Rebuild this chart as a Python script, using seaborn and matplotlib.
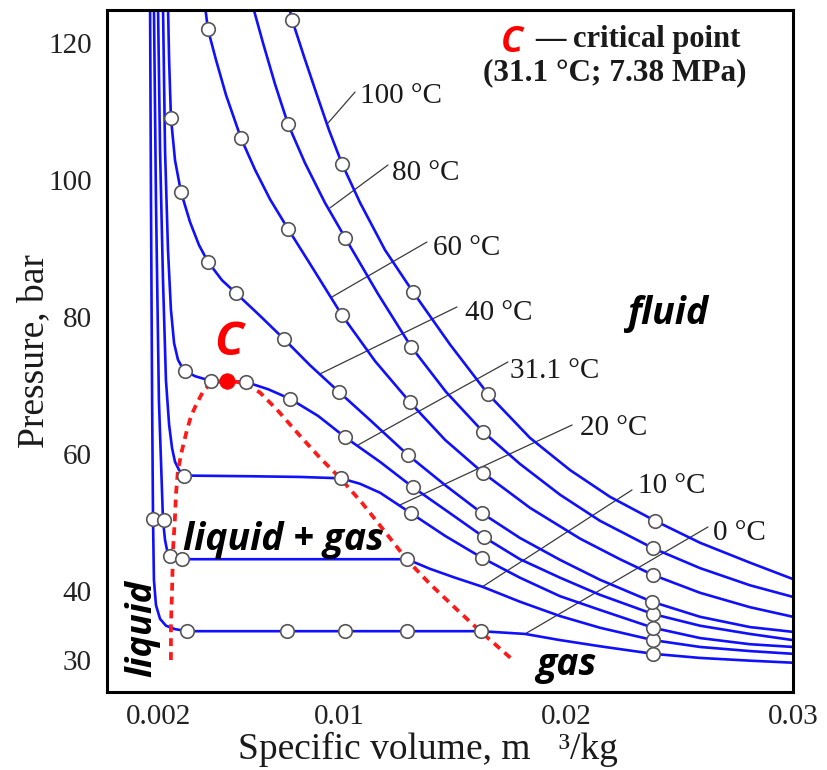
import matplotlib
matplotlib.use("Agg")
import matplotlib.pyplot as plt
import pandas as pd
import seaborn as sns

# ---------------- data ----------------
isotherm_names = ["0 °C", "10 °C", "20 °C", "31.1 °C", "40 °C", "60 °C", "80 °C", "100 °C"]

# specific volume (m3/kg) and pressure (bar) along each isotherm
v_0 = [0.00165, 0.00169, 0.00174, 0.00178, 0.00182, 0.00191, 0.00209, 0.00235, 0.00275, 0.00328,
       0.00769, 0.01025, 0.01298, 0.01624, 0.01818, 0.01973, 0.02149, 0.02383, 0.02590, 0.02810, 0.03000]
p_0 = [125.5, 97.1, 67.9, 50.6, 41.7, 38.0, 36.0, 35.0, 34.5, 34.2,
       34.2, 34.2, 34.2, 34.2, 33.8, 32.9, 32.0, 30.9, 30.3, 29.9, 29.6]

v_10 = [0.00182, 0.00191, 0.00204, 0.00222, 0.00231, 0.00240, 0.00253, 0.00275, 0.00306, 0.01298,
        0.01399, 0.01510, 0.01629, 0.01796, 0.01973, 0.02149, 0.02383, 0.02590, 0.02810, 0.03000]
p_10 = [125.5, 97.1, 67.9, 50.4, 47.5, 46.0, 45.2, 44.7, 44.7, 44.7,
        43.3, 42.0, 40.7, 38.5, 36.4, 34.7, 32.9, 31.9, 31.3, 30.9]

v_20 = [0.00200, 0.00209, 0.00222, 0.00235, 0.00249, 0.00262, 0.00275, 0.00293, 0.00319, 0.00606,
        0.00826, 0.01007, 0.01091, 0.01179, 0.01316, 0.01466, 0.01629, 0.01796, 0.01973, 0.02149,
        0.02383, 0.02590, 0.02810, 0.03000]
p_20 = [125.5, 104.4, 85.4, 70.8, 64.3, 60.9, 58.9, 57.7, 56.9, 56.8,
        56.7, 56.5, 55.7, 54.4, 51.4, 48.1, 44.9, 42.0, 39.3, 37.3,
        34.7, 33.2, 32.3, 31.9]

v_31 = [0.00222, 0.00231, 0.00244, 0.00257, 0.00271, 0.00288, 0.00306, 0.00319, 0.00363, 0.00434,
        0.00504, 0.00588, 0.00685, 0.00782, 0.00906, 0.01025, 0.01179, 0.01324, 0.01488, 0.01638,
        0.01796, 0.01973, 0.02149, 0.02383, 0.02590, 0.02810, 0.03000]
p_31 = [125.5, 104.4, 89.8, 81.1, 76.2, 73.8, 72.7, 72.2, 71.4, 70.7,
        70.7, 70.55, 69.5, 68.1, 65.6, 62.5, 58.9, 55.2, 51.4, 47.9,
        44.7, 42.0, 39.5, 36.7, 35.0, 33.8, 32.9]

v_40 = [0.00244, 0.00249, 0.00257, 0.00275, 0.00301, 0.00341, 0.00381, 0.00420, 0.00482, 0.00544,
        0.00650, 0.00756, 0.00870, 0.00998, 0.01135, 0.01302, 0.01466, 0.01629, 0.01796, 0.01973,
        0.02149, 0.02378, 0.02590, 0.02810, 0.03000]
p_40 = [125.5, 117.5, 109.1, 102.9, 98.3, 93.9, 90.5, 88.1, 85.4, 83.5,
        80.2, 76.8, 73.0, 69.1, 65.0, 59.9, 55.5, 51.4, 47.8, 44.6,
        41.7, 38.5, 36.3, 34.8, 34.1]

v_60 = [0.00407, 0.00420, 0.00456, 0.00500, 0.00566, 0.00628, 0.00694, 0.00773, 0.00870, 0.01011,
        0.01157, 0.01311, 0.01466, 0.01633, 0.01840, 0.02061, 0.02237, 0.02383, 0.02590, 0.02810, 0.03000]
p_60 = [125.5, 122.0, 117.5, 112.4, 106.1, 101.5, 97.2, 92.9, 87.8, 80.3,
        73.6, 67.6, 62.1, 57.3, 52.2, 47.7, 44.7, 42.4, 39.8, 37.7, 36.3]

v_80 = [0.00617, 0.00663, 0.00716, 0.00773, 0.00848, 0.00936, 0.01025, 0.01170, 0.01316, 0.01470,
        0.01633, 0.01796, 0.01973, 0.02149, 0.02383, 0.02590, 0.02810, 0.03000]
p_80 = [125.5, 120.0, 114.0, 108.2, 102.5, 96.7, 91.6, 83.4, 75.7, 69.1,
        63.3, 58.6, 54.1, 50.3, 46.3, 43.4, 40.9, 39.2]

v_100 = [0.00776, 0.00791, 0.00844, 0.00901, 0.00954, 0.01011, 0.01091, 0.01201, 0.01324, 0.01488,
         0.01655, 0.01840, 0.02017, 0.02193, 0.02392, 0.02590, 0.02810, 0.03000]
p_100 = [125.5, 123.4, 118.0, 112.4, 107.3, 102.4, 96.7, 89.8, 83.7, 76.0,
         68.8, 62.4, 57.7, 53.8, 50.3, 47.1, 44.2, 41.8]

# measured state points (open circles)
mv_0 = [0.00178, 0.00328, 0.00769, 0.01025, 0.01298, 0.01624, 0.02383]
mp_0 = [50.6, 34.2, 34.2, 34.2, 34.2, 34.2, 30.9]
mv_10 = [0.00226, 0.00253, 0.00306, 0.01298, 0.02383]
mp_10 = [50.4, 45.1, 44.7, 44.7, 32.9]
mv_20 = [0.00315, 0.01007, 0.01316, 0.01629, 0.02383]
mp_20 = [56.9, 56.5, 51.4, 44.9, 34.7]
mv_31 = [0.00319, 0.00434, 0.00588, 0.00782, 0.01025, 0.01324, 0.01638, 0.02383]
mp_31 = [72.2, 70.7, 70.55, 68.1, 62.5, 55.2, 47.9, 36.7]
mv_40 = [0.00257, 0.00301, 0.00420, 0.00544, 0.00756, 0.00998, 0.01302, 0.01629, 0.02378]
mp_40 = [109.1, 98.3, 88.1, 83.5, 76.8, 69.1, 59.9, 51.4, 38.5]
mv_60 = [0.00420, 0.00566, 0.00773, 0.01011, 0.01311, 0.01633, 0.02383]
mp_60 = [122.0, 106.1, 92.9, 80.3, 67.6, 57.3, 42.4]
mv_80 = [0.00773, 0.01025, 0.01316, 0.01633, 0.02383]
mp_80 = [108.2, 91.6, 75.7, 63.3, 46.3]
mv_100 = [0.00791, 0.01011, 0.01324, 0.01655, 0.02392]
mp_100 = [123.4, 102.4, 83.7, 68.8, 50.3]

# saturation dome (liquid side -> critical point -> vapour side)
dome_v = [0.00257, 0.00257, 0.00262, 0.00266, 0.00275, 0.00279, 0.00288, 0.00306, 0.00328, 0.00346,
          0.00372, 0.00403, 0.00434, 0.00465, 0.00504, 0.00548, 0.00588, 0.00650, 0.00725, 0.00826,
          0.00914, 0.01007, 0.01100, 0.01201, 0.01298, 0.01399, 0.01510, 0.01624, 0.01765]
dome_p = [30.0, 35.1, 40.2, 46.0, 50.9, 54.1, 57.7, 60.6, 63.6, 65.6,
          67.5, 69.4, 70.3, 70.55, 70.7, 70.55, 70.3, 69.0, 66.5, 62.7,
          59.5, 56.4, 52.9, 48.7, 44.6, 41.1, 37.6, 34.1, 30.0]

crit_v = [0.00504]
crit_p = [70.7]

x_ticks = [0.002, 0.01, 0.02, 0.03]
x_tick_labels = ["0.002", "0.01", "0.02", "0.03"]
y_ticks = [30, 40, 50, 60, 70, 80, 90, 100, 110, 120]
y_tick_labels = ["30", "40", "", "60", "", "80", "", "100", "", "120"]

# ---------------- assemble tables ----------------
curve_v = [v_0, v_10, v_20, v_31, v_40, v_60, v_80, v_100]
curve_p = [p_0, p_10, p_20, p_31, p_40, p_60, p_80, p_100]
mark_v = [mv_0, mv_10, mv_20, mv_31, mv_40, mv_60, mv_80, mv_100]
mark_p = [mp_0, mp_10, mp_20, mp_31, mp_40, mp_60, mp_80, mp_100]

line_rows = []
for name, vs, ps in zip(isotherm_names, curve_v, curve_p):
    for i, (v, p) in enumerate(zip(vs, ps)):
        line_rows.append({"T": name, "i": i, "v": v, "P": p})
df_lines = pd.DataFrame(line_rows)

mark_rows = []
for name, vs, ps in zip(isotherm_names, mark_v, mark_p):
    for v, p in zip(vs, ps):
        mark_rows.append({"T": name, "v": v, "P": p})
df_marks = pd.DataFrame(mark_rows)

df_dome = pd.DataFrame({"v": dome_v, "P": dome_p, "i": range(len(dome_v))})

# ---------------- styling ----------------
sns.set_theme(style="white")
plt.rcParams["font.family"] = ["Liberation Serif", "DejaVu Serif"]
plt.rcParams["axes.linewidth"] = 2.2

SANS_BI = dict(family=["Open Sans", "DejaVu Sans"], weight="bold", style="italic")
BLUE = "#1010ff"

fig = plt.figure(figsize=(8.28, 7.7), dpi=100)
ax = fig.add_axes([107 / 828, 78 / 770, 686 / 828, 682 / 770])

sns.lineplot(data=df_lines, x="v", y="P", units="T", estimator=None, sort=False,
             color=BLUE, lw=1.9, ax=ax, legend=False, zorder=2)
sns.lineplot(data=df_dome, x="v", y="P", estimator=None, sort=False, color="#ff1a1a",
             lw=2.7, linestyle=(0, (2.1, 1.6)), ax=ax, legend=False, zorder=3)
sns.scatterplot(data=df_marks, x="v", y="P", s=95, color="white", edgecolor="#555555",
                linewidth=1.2, ax=ax, legend=False, zorder=4)
sns.scatterplot(x=crit_v, y=crit_p, s=125, color="#ff0000", edgecolor="#ff0000",
                linewidth=0.5, ax=ax, legend=False, zorder=5)

# leader lines and isotherm labels
leaders = [  # (text x, text baseline y, leader start, leader end)
    ("100 °C", 0.01091, 111.25, (0.01069, 112.85), (0.00950, 108.33)),
    ("80 °C", 0.01232, 100.02, (0.01214, 102.20), (0.00958, 95.93)),
    ("60 °C", 0.01413, 89.07, (0.01386, 90.97), (0.00967, 82.95)),
    ("40 °C", 0.01554, 79.59, (0.01518, 81.49), (0.00914, 71.72)),
    ("31.1 °C", 0.01752, 71.13, (0.01743, 73.47), (0.01082, 61.36)),
    ("20 °C", 0.02061, 62.82, (0.02026, 64.28), (0.01267, 52.61)),
    ("10 °C", 0.02317, 54.36, (0.02290, 54.80), (0.01629, 40.65)),
    ("0 °C", 0.02647, 47.50, (0.02625, 49.40), (0.01818, 33.79)),
]
for label, tx, ty, a, b in leaders:
    ax.plot([a[0], b[0]], [a[1], b[1]], color="#3a3a3a", lw=0.9, zorder=1)
    ax.text(tx, ty, label, fontsize=21, color="#1a1a1a", ha="left", va="baseline", zorder=6)

# axes
ax.set_xlim(-0.000249, 0.03)
ax.set_ylim(25.33, 124.81)
ax.set_xticks(x_ticks)
ax.set_xticklabels(x_tick_labels)
ax.set_yticks(y_ticks)
ax.set_yticklabels(y_tick_labels)
ax.tick_params(axis="both", direction="in", length=8.5, width=1.6, color="black",
               labelcolor="#222222", labelsize=21)
ax.tick_params(axis="x", pad=9)
ax.tick_params(axis="y", pad=11)
for s in ax.spines.values():
    s.set_visible(True)
    s.set_color("black")
    s.set_linewidth(2.2)

ax.set_xlabel("Specific volume, m   ³/kg", fontsize=27, color="#1a1a1a")
ax.set_ylabel("Pressure, bar", fontsize=27, color="#1a1a1a")
ax.xaxis.set_label_coords(0.468, -0.058)
ax.yaxis.set_label_coords(-0.082, 0.50)

# region labels
fig.text(142 / 828, 1 - 628 / 770, "liquid", rotation=90, ha="center", va="center",
         fontsize=26, color="black", **SANS_BI)
fig.text(283 / 828, 1 - 550 / 770, "liquid + gas", ha="center", va="baseline",
         fontsize=27, color="black", **SANS_BI)
fig.text(566 / 828, 1 - 675 / 770, "gas", ha="center", va="baseline",
         fontsize=27, color="black", **SANS_BI)
fig.text(668 / 828, 1 - 324 / 770, "fluid", ha="center", va="baseline",
         fontsize=27, color="black", **SANS_BI)
fig.text(229 / 828, 1 - 355 / 770, "C", ha="center", va="baseline",
         fontsize=34, color="#ff0000", **SANS_BI)

# header
fig.text(512 / 828, 1 - 52 / 770, "C", ha="center", va="baseline",
         fontsize=26, color="#ff0000", **SANS_BI)
fig.text(535 / 828, 1 - 47 / 770, "— critical point", ha="left", va="baseline",
         fontsize=22, weight="bold", color="#1a1a1a")
fig.text(615 / 828, 1 - 80 / 770, "(31.1 °C; 7.38 MPa)", ha="center", va="baseline",
         fontsize=22.5, weight="bold", color="#1a1a1a")

fig.savefig("out.png", dpi=100, facecolor="white")
